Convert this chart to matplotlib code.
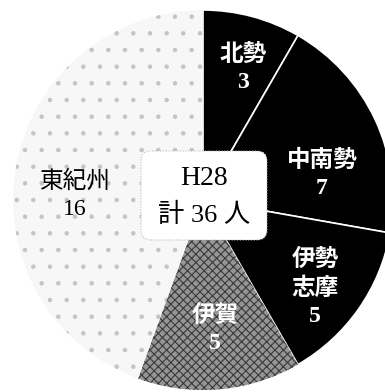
import numpy as np
import matplotlib
matplotlib.use("Agg")
from matplotlib import pyplot as plt
from matplotlib.patches import FancyBboxPatch

# data (H28)
regions = ["北勢", "中南勢", "伊勢\n志摩", "伊賀", "東紀州"]
counts = [3, 7, 5, 5, 16]
year = "H28"
total_label = "計 36 人"

colors = ["black", "black", "black", "#959595", "#f7f7f7"]
hatches = [None, None, None, "xxxx", "."]
hatch_cols = ["white", "white", "white", "#3a3a3a", "#c4c4c4"]
txt_cols = ["white", "white", "white", "white", "black"]
weights = ["bold", "bold", "bold", "bold", "normal"]
# label spots in picture pixels (x, y from top)
label_xy = [(243, 68), (322, 174), (315, 288), (215, 329), (75, 195)]

W, H = 385, 392
fam = ["Liberation Serif", "Noto Sans CJK JP"]
plt.rcParams["hatch.linewidth"] = 0.8

fig = plt.figure(figsize=(W / 100, H / 100), dpi=100)
ax = fig.add_axes([0, 0, 1, 1])

wedges, _ = ax.pie(counts, startangle=90, counterclock=False,
                   center=(203, H - 200), radius=190, colors=colors,
                   wedgeprops=dict(linewidth=1.2, edgecolor="white"))
for w, h, hc in zip(wedges, hatches, hatch_cols):
    if h:
        w.set_hatch(h)
        w.set_edgecolor(hc)
        w.set_linewidth(0)

for name, n, (x, y), c, fw in zip(regions, counts, label_xy, txt_cols, weights):
    ax.text(x, H - y, name + "\n" + str(n), ha="center", va="center",
            color=c, fontsize=17, family=fam, weight=fw, linespacing=1.38)

box = FancyBboxPatch((141, H - 240), 126, 89,
                     boxstyle="round,pad=0,rounding_size=10",
                     facecolor="white", edgecolor="#bbbbbb",
                     linewidth=0.8, linestyle=(0, (1, 1.5)), zorder=3)
ax.add_patch(box)
ax.text(204, H - 178, year, ha="center", va="center", fontsize=20,
        family=fam, zorder=4)
ax.text(204, H - 215, total_label, ha="center", va="center", fontsize=19,
        family=fam, zorder=4)

ax.set_xlim(0, W)
ax.set_ylim(0, H)
ax.set_aspect("auto")
ax.axis("off")

fig.savefig("out.png", dpi=100, facecolor="white")
